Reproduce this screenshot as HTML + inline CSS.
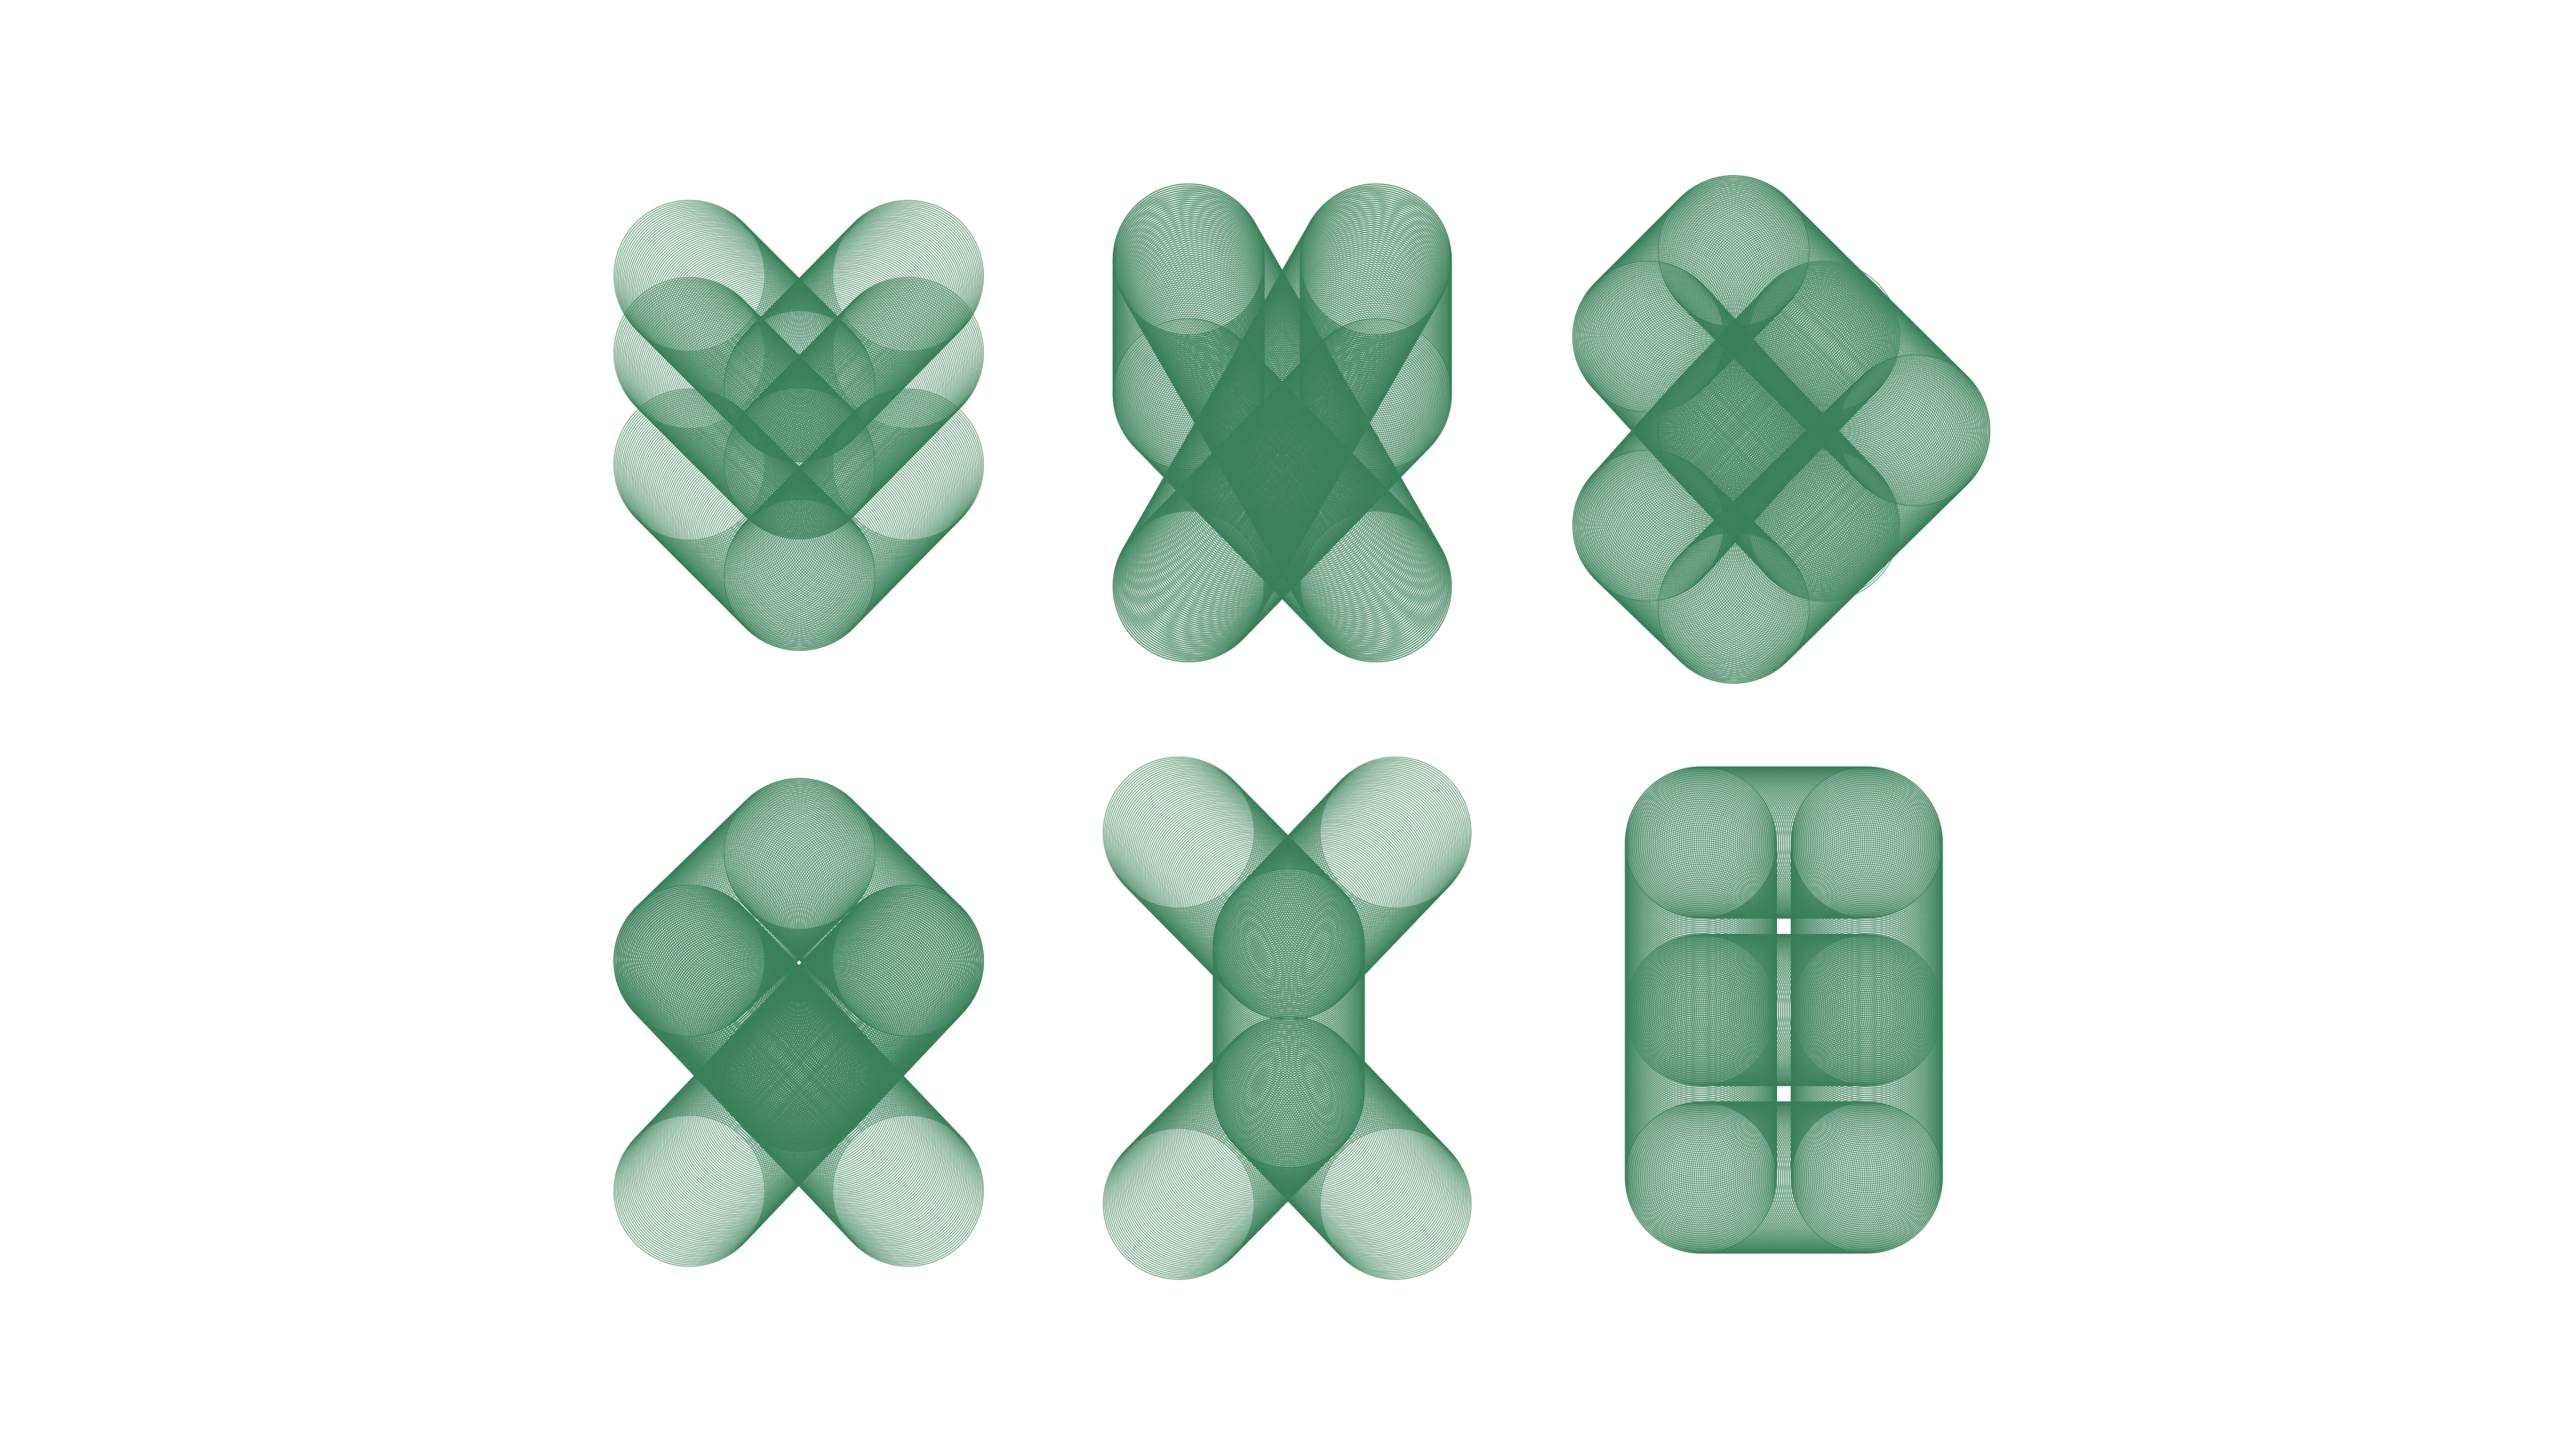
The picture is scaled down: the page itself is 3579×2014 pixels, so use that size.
<!DOCTYPE html>
<html><head><meta charset="utf-8"><style>
html,body{margin:0;padding:0;background:#fff;width:3579px;height:2014px;overflow:hidden}
svg{display:block}
</style></head><body>
<svg id="art" width="3579" height="2014" viewBox="0 0 3579 2014"></svg>
<script>
// Segments in display units (reference shown at ~1569 wide); each is [x1,y1,x2,y2]
const shape1 = [[420,168,487,235],[553,168,487,235],[420,215,487,282],[553,215,487,282],[420,283,487,350],[553,283,487,350]];
const shape2 = [[724,158,724,240],[838,158,838,240],[724,158,838,357],[838,158,724,357],[724,240,838,357],[838,240,724,357]];
const shape3 = [[1056,153,1166,262],[1166,262,1056,370],[1056,153,1004,205],[1004,205,1056,262],[1056,262,1004,320],[1004,320,1056,370],[1056,262,1111,205],[1056,262,1111,320]];
const shape4 = [[487,520,420,585],[487,520,553,585],[420,585,553,725],[553,585,420,725],[420,585,487,655],[553,585,487,655]];
const shape5 = [[718,507,785,575],[850,507,785,575],[785,575,785,665],[785,665,718,733],[785,665,850,733]];
const shape6 = [[1036,513,1036,717],[1137,513,1137,717],[1036,513,1137,513],[1036,615,1137,615],[1036,717,1137,717]];
const shapes = [shape1, shape2, shape3, shape4, shape5, shape6];
const radius = 46;
const S = 3579/1569;
const svg = document.getElementById('art');
const NS = 'http://www.w3.org/2000/svg';
shapes.forEach((segs, si) => {
  const g = document.createElementNS(NS, 'g');
  
  
  g.setAttribute('fill', 'none');
  g.setAttribute('stroke', 'rgb(58,128,90)');
  g.setAttribute('stroke-width', '1.6');
  g.setAttribute('stroke-opacity', '0.6');
  segs.forEach(s => {
    const len = Math.hypot(s[2]-s[0], s[3]-s[1]) * S;
    const n = Math.max(2, Math.round(len / 3));
    for (let i = 0; i <= n; i++) {
      const t = i / n;
      const c = document.createElementNS(NS, 'circle');
      
      
      c.setAttribute('cx', ((s[0] + (s[2]-s[0])*t) * S).toFixed(1));
      c.setAttribute('cy', ((s[1] + (s[3]-s[1])*t) * S).toFixed(1));
      c.setAttribute('r', (radius * S).toFixed(1));
      g.appendChild(c);
    }
  });
  svg.appendChild(g);
});
</script>
</body></html>
